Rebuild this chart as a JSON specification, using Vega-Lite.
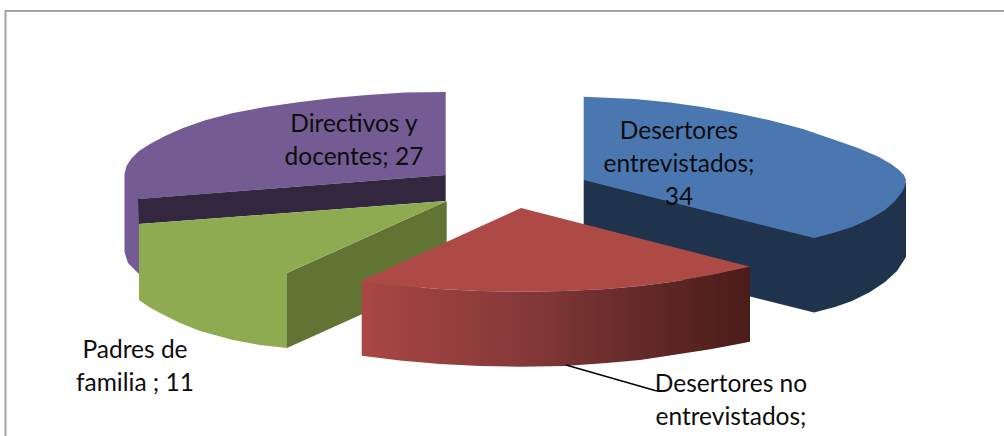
{"$schema":"https://vega.github.io/schema/vega-lite/v6.json","width":1004,"height":436,"autosize":{"type":"none"},"padding":0,"background":"white","view":{"stroke":null},
"config":{"axis":{"disable":true},"legend":{"disable":true}},
"datasets":{"shapes":[
{"i":1,"part":"purple","x":445.7,"y":92},{"i":2,"part":"purple","x":405,"y":92.5},{"i":3,"part":"purple","x":367,"y":95},{"i":4,"part":"purple","x":333,"y":98},{"i":5,"part":"purple","x":300,"y":102},{"i":6,"part":"purple","x":265,"y":107},{"i":7,"part":"purple","x":233,"y":113},{"i":8,"part":"purple","x":206,"y":120},{"i":9,"part":"purple","x":183,"y":128},{"i":10,"part":"purple","x":165,"y":136},{"i":11,"part":"purple","x":150,"y":144},{"i":12,"part":"purple","x":139,"y":151},{"i":13,"part":"purple","x":131,"y":159},{"i":14,"part":"purple","x":126.5,"y":166},{"i":15,"part":"purple","x":124.5,"y":174},{"i":16,"part":"purple","x":124.5,"y":252},{"i":17,"part":"purple","x":128,"y":263},{"i":18,"part":"purple","x":139,"y":274},{"i":19,"part":"purple","x":139,"y":199},{"i":20,"part":"purple","x":445.7,"y":175},
{"i":1,"part":"purple dark","x":138,"y":199},{"i":2,"part":"purple dark","x":445.7,"y":175},{"i":3,"part":"purple dark","x":445.7,"y":201},{"i":4,"part":"purple dark","x":139,"y":224},
{"i":1,"part":"green side","x":287,"y":273},{"i":2,"part":"green side","x":446.7,"y":201},{"i":3,"part":"green side","x":446.7,"y":276},{"i":4,"part":"green side","x":287,"y":348},
{"i":1,"part":"green","x":446.7,"y":201},{"i":2,"part":"green","x":139,"y":224},{"i":3,"part":"green","x":139,"y":300},{"i":4,"part":"green","x":149,"y":307},{"i":5,"part":"green","x":160,"y":313},{"i":6,"part":"green","x":180,"y":323},{"i":7,"part":"green","x":200,"y":331},{"i":8,"part":"green","x":233,"y":340},{"i":9,"part":"green","x":260,"y":345},{"i":10,"part":"green","x":287,"y":348},{"i":11,"part":"green","x":287,"y":273},
{"i":1,"part":"blue dark","x":583.7,"y":180},{"i":2,"part":"blue dark","x":583.7,"y":255},{"i":3,"part":"blue dark","x":814,"y":312.5},{"i":4,"part":"blue dark","x":835,"y":307},{"i":5,"part":"blue dark","x":852,"y":301},{"i":6,"part":"blue dark","x":870,"y":292},{"i":7,"part":"blue dark","x":885,"y":282},{"i":8,"part":"blue dark","x":897,"y":271},{"i":9,"part":"blue dark","x":906,"y":257},{"i":10,"part":"blue dark","x":906,"y":183},
{"i":1,"part":"blue","x":583.7,"y":96.7},{"i":2,"part":"blue","x":635,"y":99},{"i":3,"part":"blue","x":670,"y":102.5},{"i":4,"part":"blue","x":702,"y":107},{"i":5,"part":"blue","x":736,"y":113},{"i":6,"part":"blue","x":769,"y":120},{"i":7,"part":"blue","x":803,"y":129},{"i":8,"part":"blue","x":835,"y":140},{"i":9,"part":"blue","x":858,"y":148},{"i":10,"part":"blue","x":879,"y":157},{"i":11,"part":"blue","x":891,"y":164},{"i":12,"part":"blue","x":899,"y":170},{"i":13,"part":"blue","x":904,"y":175},{"i":14,"part":"blue","x":906,"y":180},{"i":15,"part":"blue","x":905,"y":186},{"i":16,"part":"blue","x":902,"y":192},{"i":17,"part":"blue","x":895,"y":201},{"i":18,"part":"blue","x":885,"y":210},{"i":19,"part":"blue","x":870,"y":219},{"i":20,"part":"blue","x":852,"y":227},{"i":21,"part":"blue","x":833,"y":233},{"i":22,"part":"blue","x":814,"y":238},{"i":23,"part":"blue","x":583.7,"y":180},
{"i":1,"part":"red","x":521,"y":208},{"i":2,"part":"red","x":361.7,"y":280.7},{"i":3,"part":"red","x":390,"y":285},{"i":4,"part":"red","x":440,"y":289},{"i":5,"part":"red","x":480,"y":291},{"i":6,"part":"red","x":521,"y":291.7},{"i":7,"part":"red","x":565,"y":291},{"i":8,"part":"red","x":606.7,"y":289},{"i":9,"part":"red","x":640,"y":286},{"i":10,"part":"red","x":673,"y":281.7},{"i":11,"part":"red","x":712,"y":275},{"i":12,"part":"red","x":750,"y":266.7}
],
"wall":[
{"i":1,"x":361.7,"y":280.7},{"i":2,"x":361.7,"y":355.7},{"i":3,"x":400,"y":360.5},{"i":4,"x":440,"y":364},{"i":5,"x":480,"y":366},{"i":6,"x":521,"y":366.7},{"i":7,"x":565,"y":366},{"i":8,"x":606.7,"y":363},{"i":9,"x":640,"y":360},{"i":10,"x":673,"y":355},{"i":11,"x":712,"y":349},{"i":12,"x":750,"y":341.7},{"i":13,"x":750,"y":266.7},{"i":14,"x":712,"y":275},{"i":15,"x":673,"y":281.7},{"i":16,"x":640,"y":286},{"i":17,"x":606.7,"y":289},{"i":18,"x":565,"y":291},{"i":19,"x":521,"y":291.7},{"i":20,"x":480,"y":291},{"i":21,"x":440,"y":289},{"i":22,"x":390,"y":285}
],
"frame":[{"i":1,"x":5.5,"y":436},{"i":2,"x":5.5,"y":11},{"i":3,"x":1004,"y":11}],
"leader":[{"i":1,"x":566,"y":365},{"i":2,"x":655,"y":390.5},{"i":3,"x":661,"y":391}],
"labels":[
{"label":"Directivos y\ndocentes; 27","x":354,"y":132},
{"label":"Padres de\nfamilia ; 11","x":135,"y":358},
{"label":"Desertores\nentrevistados;\n34","x":679,"y":139},
{"label":"Desertores no\nentrevistados;","x":731,"y":392}
]},
"encoding":{"x":{"field":"x","type":"quantitative","scale":{"domain":[0,1004],"nice":false,"zero":false}},"y":{"field":"y","type":"quantitative","scale":{"domain":[436,0],"nice":false,"zero":false}}},
"layer":[
{"data":{"name":"frame"},"mark":{"type":"line","stroke":"#A3A3A3","strokeWidth":2},"encoding":{"order":{"field":"i","type":"quantitative"}}},
{"data":{"name":"shapes"},"mark":{"type":"line","strokeWidth":0},"encoding":{"order":{"field":"i","type":"quantitative"},"fill":{"field":"part","type":"nominal","legend":null,"scale":{"domain":["purple","purple dark","green side","green","blue dark","blue","red"],"range":["#755B93","#33273F","#627433","#8EAB51","#1F334D","#4A77B0","#AE4A46"]}}}},
{"data":{"name":"wall"},"mark":{"type":"line","strokeWidth":0,"fill":{"gradient":"linear","x1":0,"x2":1,"y1":0,"y2":0,"stops":[{"offset":0,"color":"#A94743"},{"offset":0.4,"color":"#87393A"},{"offset":0.7,"color":"#662B29"},{"offset":1,"color":"#4A1C1A"}]}},"encoding":{"order":{"field":"i","type":"quantitative"}}},
{"data":{"name":"leader"},"mark":{"type":"line","stroke":"#000000","strokeWidth":1.5},"encoding":{"order":{"field":"i","type":"quantitative"}}},
{"data":{"name":"labels"},"mark":{"type":"text","font":"Lato","fontSize":24.5,"lineBreak":"\n","lineHeight":33,"align":"center","baseline":"alphabetic","color":"#0D0D0D"},"encoding":{"text":{"field":"label"}}}
]}
